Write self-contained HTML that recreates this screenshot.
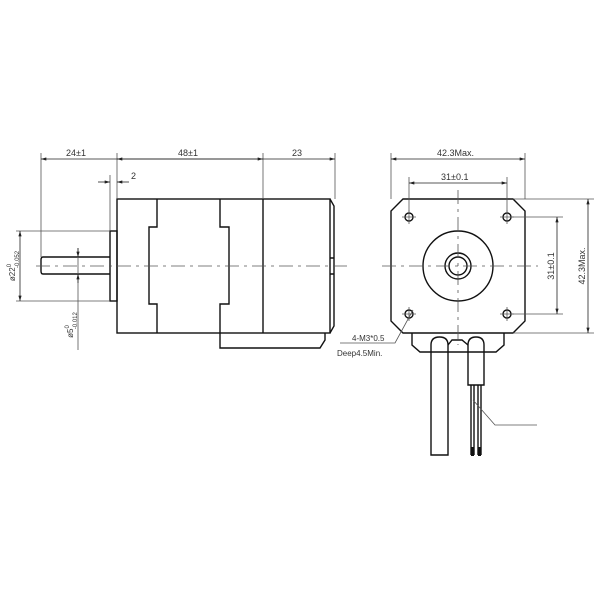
<!DOCTYPE html>
<html><head><style>body{margin:0;background:#fff}svg{display:block}text{font-family:"Liberation Sans",sans-serif;fill:#333}</style></head>
<body>
<svg width="600" height="600" viewBox="0 0 600 600" xmlns="http://www.w3.org/2000/svg">
<defs><marker id="a" viewBox="0 0 10 6" refX="10" refY="3" markerWidth="8" markerHeight="4" orient="auto-start-reverse"><path d="M0,0L10,3L0,6z" fill="#222"/></marker></defs>
<g stroke="#111" stroke-width="1.4" fill="none">
<rect x="117" y="199" width="213" height="134"/>
<path d="M157 199V227H149V304H157V333"/>
<path d="M220 199V227H229V304H220V348H320L325 340V333"/>
<path d="M263 199V333"/>
<path d="M330 199L334 206V326L330 333"/>
<path d="M330 258H334M330 274H334"/>
<rect x="110" y="231" width="7" height="70"/>
<path d="M110 257H43Q41 257 41 260V271Q41 274 43 274H110"/>
<path d="M403 199H513L525 211V321L513 333H403L391 321V211Z"/>
<circle cx="409" cy="217" r="4"/><circle cx="507" cy="217" r="4"/>
<circle cx="409" cy="314" r="4"/><circle cx="507" cy="314" r="4"/>
<circle cx="458" cy="266" r="35"/><circle cx="458" cy="266" r="13"/><circle cx="458" cy="266" r="9"/>
<path d="M412 333V345L420 352H496L504 345V333"/>
<path d="M431 455V345Q431 337 439.5 337Q448 337 448 345V455Z"/>
<path d="M468 385V345Q468 337 476 337Q484 337 484 345V385Z"/>
<path d="M471 385V455M474 385V455M478 385V455M481 385V455"/>
<path d="M448 345L452 340H462L468 345"/>
</g>
<g stroke="#111" stroke-width="3"><path d="M472.5 447V456M479.5 447V456"/></g>
<g stroke="#555" stroke-width="0.8" fill="none">
<path d="M36 266H350" stroke-dasharray="14 5 3 5"/>
<path d="M382 266H538" stroke-dasharray="14 5 3 5"/>
<path d="M458 190V345" stroke-dasharray="14 5 3 5"/>
<path d="M402 217H416M409 210V224M500 217H514M507 210V224M402 314H416M409 307V321M500 314H514M507 307V321"/>
<path d="M41 153V257M117 153V199M263 153V199M335 153V199M110 175V231"/>
<path d="M16 231H110M16 301H110"/>
<path d="M78 248V350"/>
<path d="M391 153V199M525 153V199M409 177V213M507 177V213"/>
<path d="M513 199H594M511 217H563M511 314H563M513 333H594"/>
<path d="M473 400L495 425H537"/>
<path d="M413 310L395 343H340"/>
</g>
<g stroke="#222" stroke-width="0.8">
<path d="M41 159H335" marker-start="url(#a)" marker-end="url(#a)"/>
<path d="M117 159H263" marker-start="url(#a)" marker-end="url(#a)"/>
<path d="M98 182H110" marker-end="url(#a)"/><path d="M129 182H117" marker-end="url(#a)"/>
<path d="M20 231V301" marker-start="url(#a)" marker-end="url(#a)"/>
<path d="M78 248V257" marker-end="url(#a)"/><path d="M78 283V274" marker-end="url(#a)"/>
<path d="M391 159H525" marker-start="url(#a)" marker-end="url(#a)"/>
<path d="M409 183H507" marker-start="url(#a)" marker-end="url(#a)"/>
<path d="M557 217V314" marker-start="url(#a)" marker-end="url(#a)"/>
<path d="M588 199V333" marker-start="url(#a)" marker-end="url(#a)"/>
</g>
<g font-size="9">
<text x="66" y="156">24±1</text>
<text x="178" y="156">48±1</text>
<text x="292" y="156">23</text>
<text x="131" y="179">2</text>
<text x="437" y="156">42.3Max.</text>
<text x="441" y="180">31±0.1</text>
<text transform="translate(554,266) rotate(-90)" text-anchor="middle">31±0.1</text>
<text transform="translate(585,266) rotate(-90)" text-anchor="middle">42.3Max.</text>
<text transform="translate(15,266) rotate(-90)" text-anchor="middle" font-size="8">ø22<tspan font-size="6" dy="-4">0</tspan><tspan font-size="6" dx="-4" dy="8">-0.052</tspan></text>
<text transform="translate(73,325) rotate(-90)" text-anchor="middle" font-size="8">ø5<tspan font-size="6" dy="-4">0</tspan><tspan font-size="6" dx="-4" dy="8">-0.012</tspan></text>
<text x="352" y="341" font-size="8">4-M3*0.5</text>
<text x="337" y="356" font-size="8">Deep4.5Min.</text>
</g>
</svg>
</body></html>
